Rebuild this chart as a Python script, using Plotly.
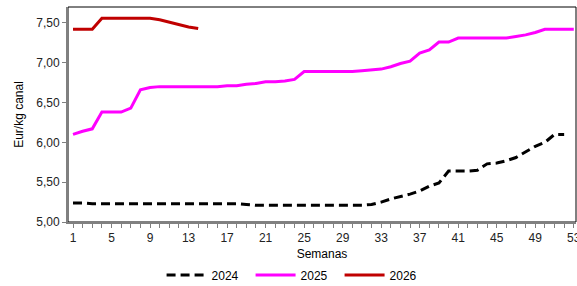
import plotly.graph_objects as go

weeks_2024 = list(range(1, 53))
vals_2024 = [5.24, 5.24, 5.23, 5.23, 5.23, 5.23, 5.23, 5.23, 5.23, 5.23,
             5.23, 5.23, 5.23, 5.23, 5.23, 5.23, 5.23, 5.23, 5.22, 5.21,
             5.21, 5.21, 5.21, 5.21, 5.21, 5.21, 5.21, 5.21, 5.21, 5.21,
             5.21, 5.22, 5.25, 5.29, 5.32, 5.35, 5.39, 5.45, 5.49, 5.64,
             5.64, 5.64, 5.65, 5.73, 5.74, 5.77, 5.81, 5.88, 5.95, 6.00,
             6.10, 6.10]

weeks_2025 = list(range(1, 54))
vals_2025 = [6.10, 6.14, 6.17, 6.38, 6.38, 6.38, 6.43, 6.66, 6.69, 6.70,
             6.70, 6.70, 6.70, 6.70, 6.70, 6.70, 6.71, 6.71, 6.73, 6.74,
             6.76, 6.76, 6.77, 6.79, 6.89, 6.89, 6.89, 6.89, 6.89, 6.89,
             6.90, 6.91, 6.92, 6.95, 6.99, 7.02, 7.12, 7.16, 7.26, 7.26,
             7.31, 7.31, 7.31, 7.31, 7.31, 7.31, 7.33, 7.35, 7.38, 7.42,
             7.42, 7.42, 7.42]

weeks_2026 = list(range(1, 15))
vals_2026 = [7.42, 7.42, 7.42, 7.56, 7.56, 7.56, 7.56, 7.56, 7.56, 7.54,
             7.51, 7.48, 7.45, 7.43]

x_tick_vals = list(range(1, 54, 4))
x_tick_text = [str(v) for v in x_tick_vals]
y_tick_vals = [5.0, 5.5, 6.0, 6.5, 7.0, 7.5]

font = "Liberation Sans, Arial, sans-serif"

fig = go.Figure()
fig.add_trace(go.Scatter(x=weeks_2024, y=vals_2024, name="2024", mode="lines",
                         line=dict(color="#000000", width=3, dash="9px,5px")))
fig.add_trace(go.Scatter(x=weeks_2025, y=vals_2025, name="2025", mode="lines",
                         line=dict(color="#FF00FF", width=3)))
fig.add_trace(go.Scatter(x=weeks_2026, y=vals_2026, name="2026", mode="lines",
                         line=dict(color="#C00000", width=3)))

fig.add_shape(type="rect", xref="paper", yref="paper", x0=0, x1=1, y0=0, y1=1,
              line=dict(color="#000000", width=1), layer="below")

fig.update_layout(
    width=577, height=286,
    margin=dict(l=68, r=1, t=7, b=64, autoexpand=False),
    paper_bgcolor="white", plot_bgcolor="white",
    separators=",.",
    font=dict(family=font, size=12, color="#222222"),
    showlegend=True,
    legend=dict(orientation="h", x=0.447, xanchor="center", y=-0.246, yanchor="middle",
                font=dict(size=12, color="#000000"), itemwidth=40, tracegroupgap=0,
                entrywidth=34, entrywidthmode="pixels"),
    xaxis=dict(range=[0.48, 53.23], tickvals=x_tick_vals, ticktext=x_tick_text,
               automargin=False, ticklabeloverflow="allow",
               showgrid=False, zeroline=False, showline=True, linecolor="#808080", linewidth=2,
               ticks="outside", ticklen=4, tickcolor="#808080",
               minor=dict(tickmode="linear", tick0=1, dtick=1, ticks="outside", ticklen=4,
                          tickcolor="#808080", showgrid=False),
               title=dict(text="Semanas", standoff=5, font=dict(size=12, color="#000000")),
               tickfont=dict(size=12)),
    yaxis=dict(range=[5.0, 7.7], tickvals=y_tick_vals, tickformat=".2f",
               automargin=False,
               showgrid=False, zeroline=False, showline=True, linecolor="#808080", linewidth=2,
               ticks="outside", ticklen=4, tickcolor="#808080",
               title=dict(text="Eur/kg canal", standoff=10, font=dict(size=12, color="#000000")),
               tickfont=dict(size=12)),
)

fig.write_html("out.html", config={"displayModeBar": False},
               post_script="document.body.style.margin='0';document.body.style.padding='0';")
